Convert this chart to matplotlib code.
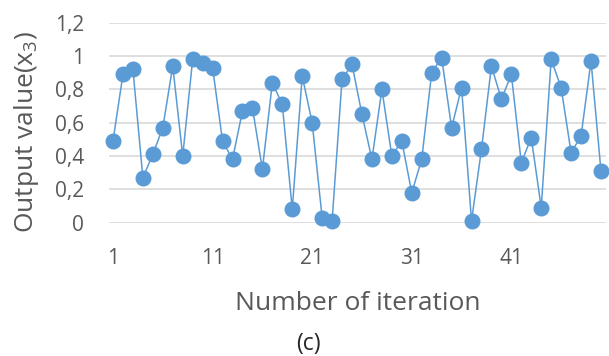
import matplotlib
matplotlib.use("Agg")
import matplotlib.pyplot as plt

iterations = list(range(1, 51))
output_x3 = [0.49, 0.89, 0.92, 0.27, 0.41, 0.57, 0.94, 0.40, 0.98, 0.96,
             0.93, 0.49, 0.38, 0.67, 0.69, 0.32, 0.84, 0.71, 0.08, 0.88,
             0.60, 0.03, 0.01, 0.86, 0.95, 0.65, 0.38, 0.80, 0.40, 0.49,
             0.18, 0.38, 0.90, 0.99, 0.57, 0.81, 0.01, 0.44, 0.94, 0.74,
             0.89, 0.36, 0.51, 0.09, 0.98, 0.81, 0.42, 0.52, 0.97, 0.31]
x_ticks = [1, 11, 21, 31, 41]
y_ticks = [0, 0.2, 0.4, 0.6, 0.8, 1.0, 1.2]
y_tick_labels = ["0", "0,2", "0,4", "0,6", "0,8", "1", "1,2"]

plt.rcParams["font.family"] = ["Open Sans", "DejaVu Sans"]
text_color = "#595959"
blue = "#5B9BD5"

fig = plt.figure(figsize=(6.09, 3.56), dpi=100)
ax = fig.add_axes([0.179, 0.3745, 0.816, 0.5617])

ax.plot(iterations, output_x3, color=blue, linewidth=1.1, marker="o",
        markersize=10.5, markerfacecolor=blue, markeredgecolor=blue,
        clip_on=False, zorder=3)

ax.set_xlim(0.6, 50.5)
ax.set_ylim(0, 1.2)
ax.set_xticks(x_ticks)
ax.set_yticks(y_ticks)
ax.set_yticklabels(y_tick_labels)
ax.tick_params(length=0, labelsize=15, colors=text_color)
ax.tick_params(axis="x", pad=18)
ax.tick_params(axis="y", pad=18)
ax.grid(axis="y", color="#D9D9D9", linewidth=1.2)
ax.set_axisbelow(True)
for s in ax.spines.values():
    s.set_visible(False)

fig.text(33 / 609, 1 - 131.5 / 356, "Output value(x$_{\\mathregular{3}}$)",
         fontsize=19, color=text_color, rotation=90, rotation_mode="anchor",
         ha="center", va="baseline")
fig.text(357.5 / 609, 1 - 310 / 356, "Number of iteration", fontsize=19,
         color=text_color, ha="center", va="baseline")
fig.text(308 / 609, 1 - 344 / 356, "(c)", fontsize=16.5, color="#262626",
         ha="center", va="center")

fig.savefig("out.png", dpi=100)
